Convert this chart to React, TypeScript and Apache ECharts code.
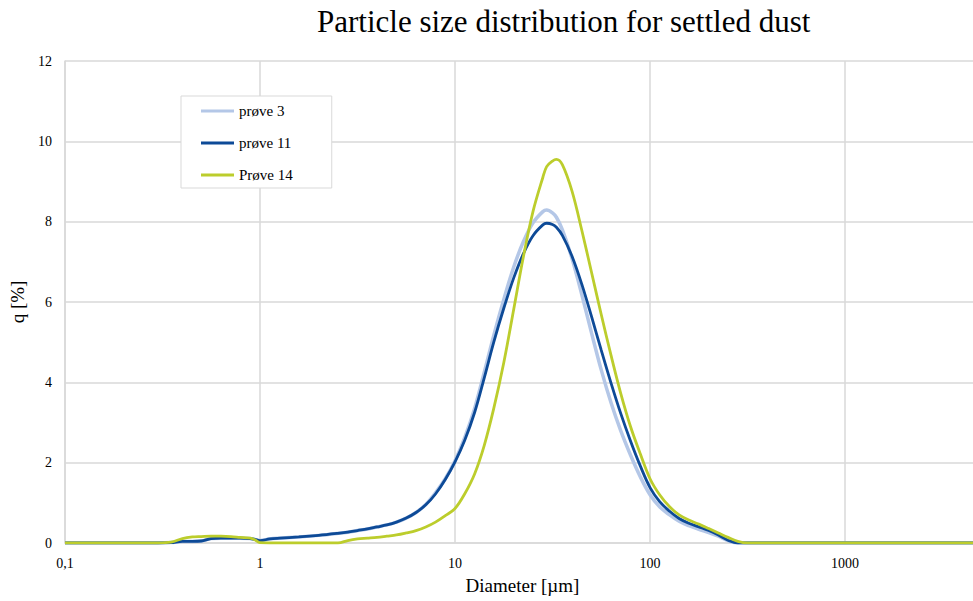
import React, { useEffect, useRef } from "react";
import * as echarts from "echarts";

const diameters = [0.1, 0.3, 0.35, 0.4, 0.45, 0.5, 0.56, 0.63, 0.71, 0.79, 0.89, 0.94, 1.0, 1.12, 1.26, 1.58, 2.0, 2.51, 2.82, 3.16, 3.55, 3.98, 4.47, 5.01, 5.62, 6.31, 7.08, 7.94, 8.91, 10, 11.2, 12.6, 14.1, 15.8, 17.8, 20.0, 22.4, 25.1, 28.2, 29.5, 31.6, 33.1, 35.5, 39.8, 44.7, 50.1, 56.2, 63.1, 70.8, 79.4, 89.1, 100, 112, 126, 141, 158, 178, 200, 224, 251, 282, 316, 500, 1000, 2000, 4920];

const q3 = [0, 0, 0.01, 0.04, 0.04, 0.05, 0.11, 0.12, 0.12, 0.12, 0.11, 0.09, 0.06, 0.1, 0.12, 0.15, 0.19, 0.24, 0.27, 0.31, 0.35, 0.4, 0.45, 0.52, 0.62, 0.76, 0.96, 1.25, 1.6, 2.05, 2.62, 3.35, 4.24, 5.17, 6.07, 6.87, 7.5, 7.97, 8.25, 8.29, 8.22, 8.11, 7.8, 7.08, 6.18, 5.23, 4.31, 3.49, 2.79, 2.19, 1.65, 1.2, 0.9, 0.7, 0.54, 0.43, 0.34, 0.26, 0.17, 0.06, 0, 0, 0, 0, 0, 0];

const q11 = [0, 0, 0.01, 0.04, 0.04, 0.05, 0.11, 0.12, 0.12, 0.12, 0.11, 0.09, 0.06, 0.1, 0.12, 0.15, 0.19, 0.24, 0.27, 0.31, 0.35, 0.4, 0.45, 0.52, 0.62, 0.76, 0.95, 1.22, 1.58, 2.02, 2.55, 3.25, 4.1, 5.0, 5.85, 6.6, 7.2, 7.65, 7.92, 7.96, 7.93, 7.86, 7.66, 7.14, 6.44, 5.64, 4.8, 3.98, 3.22, 2.54, 1.92, 1.38, 1.03, 0.79, 0.61, 0.49, 0.4, 0.31, 0.2, 0.07, 0, 0, 0, 0, 0, 0];

const q14 = [0, 0, 0.02, 0.11, 0.15, 0.16, 0.17, 0.17, 0.16, 0.14, 0.12, 0.08, 0.01, 0, 0, 0, 0, 0, 0.06, 0.1, 0.12, 0.14, 0.17, 0.2, 0.25, 0.31, 0.4, 0.52, 0.68, 0.86, 1.22, 1.72, 2.42, 3.35, 4.5, 5.82, 7.12, 8.25, 9.1, 9.37, 9.51, 9.55, 9.42, 8.76, 7.78, 6.74, 5.69, 4.67, 3.72, 2.9, 2.22, 1.6, 1.2, 0.9, 0.7, 0.57, 0.47, 0.36, 0.25, 0.14, 0.04, 0, 0, 0, 0, 0];

const seriesNames = ["prøve 3", "prøve 11", "Prøve 14"];
const seriesColors = ["#b4c7e7", "#0d4a97", "#bccd2c"];
const seriesValues = [q3, q11, q14];
const seriesWidths = [3.5, 2.8, 2.8];

const titleText = "Particle size distribution for settled dust";
const xName = "Diameter [µm]";
const yName = "q [%]";

const FONT = "'Liberation Serif', 'Times New Roman', serif";

export default function App() {
  const ref = useRef<HTMLDivElement>(null);
  useEffect(() => {
    const chart = echarts.init(ref.current!, undefined, { renderer: "svg" });
    chart.setOption({
      animation: false,
      backgroundColor: "#ffffff",
      textStyle: { fontFamily: FONT },
      title: {
        text: titleText,
        left: 317,
        top: 6,
        padding: 0,
        textStyle: { fontFamily: FONT, fontSize: 31, fontWeight: "normal", color: "#000" },
      },
      grid: { left: 65, right: 0, top: 61, bottom: 58, outerBoundsMode: "none" },
      legend: {
        orient: "vertical",
        left: 181,
        top: 96,
        padding: [7, 39, 5, 20],
        itemGap: 16,
        itemWidth: 33,
        itemHeight: 3,
        icon: "rect",
        borderColor: "#d9d9d9",
        borderWidth: 1,
        backgroundColor: "#fff",
        textStyle: { fontFamily: FONT, fontSize: 15, color: "#000", lineHeight: 16 },
        data: seriesNames,
      },
      xAxis: {
        type: "log",
        logBase: 10,
        min: 0.1,
        max: 4920,
        name: xName,
        nameLocation: "middle",
        nameGap: 33,
        nameTextStyle: { fontFamily: FONT, fontSize: 19, color: "#000" },
        axisLine: { show: true, lineStyle: { color: "#d9d9d9", width: 1.5 } },
        axisTick: { show: false },
        axisLabel: {
          fontFamily: FONT,
          fontSize: 14,
          color: "#000",
          margin: 13,
          showMaxLabel: false,
          formatter: (v: number) => String(v).replace(".", ","),
        },
        splitLine: { show: true, lineStyle: { color: "#d9d9d9", width: 1.5 } },
      },
      yAxis: {
        type: "value",
        min: 0,
        max: 12,
        interval: 2,
        name: yName,
        nameLocation: "middle",
        nameGap: 33,
        nameRotate: 90,
        nameTextStyle: { fontFamily: FONT, fontSize: 19, color: "#000" },
        axisLine: { show: true, lineStyle: { color: "#d9d9d9", width: 1.5 } },
        axisTick: { show: false },
        axisLabel: { fontFamily: FONT, fontSize: 14, color: "#000", margin: 13 },
        splitLine: { show: true, lineStyle: { color: "#d9d9d9", width: 1.5 } },
      },
      series: seriesNames.map((name, i) => ({
        name,
        type: "line",
        data: diameters.map((d, j) => [d, seriesValues[i][j]]),
        smooth: 0.35,
        symbol: "none",
        color: seriesColors[i],
        lineStyle: { color: seriesColors[i], width: seriesWidths[i] },
      })),
    });
    return () => chart.dispose();
  }, []);
  return (
    <div
      style={{
        position: "absolute",
        left: 0,
        top: 0,
        width: 973,
        height: 601,
        overflow: "hidden",
        background: "#fff",
      }}
    >
      <div ref={ref} style={{ width: 980, height: 601 }} />
    </div>
  );
}
